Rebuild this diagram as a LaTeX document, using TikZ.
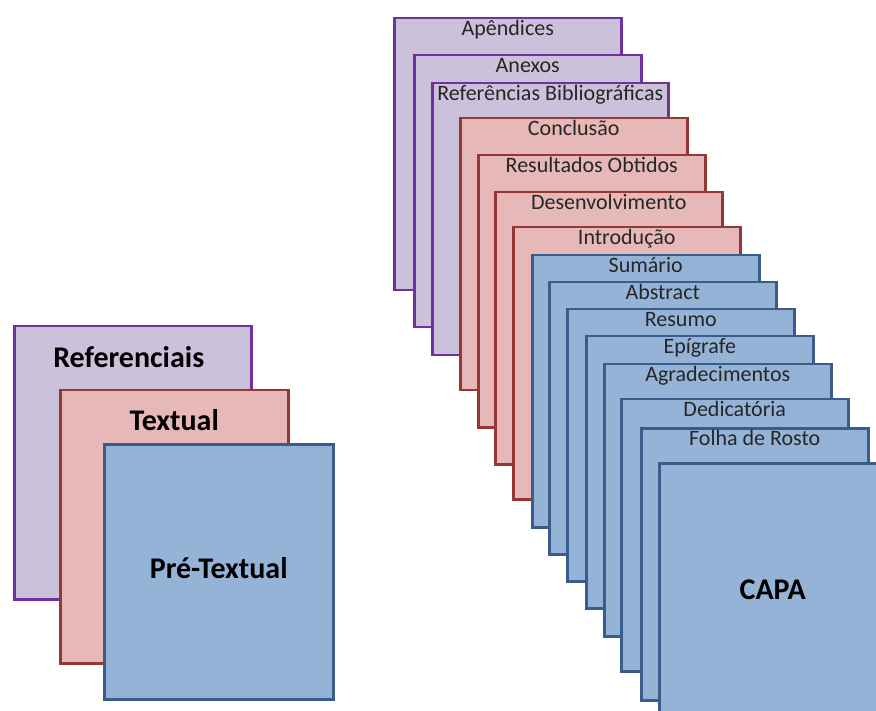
\documentclass[tikz,border=0pt]{standalone}
\usepackage{fontspec}
\setmainfont{Carlito}
\usepackage{tikz}

\definecolor{lilas}{HTML}{CCC1DA}
\definecolor{roxo}{HTML}{7030A0}
\definecolor{rosa}{HTML}{E6B9B8}
\definecolor{vinho}{HTML}{953735}
\definecolor{azul}{HTML}{95B3D7}
\definecolor{marinho}{HTML}{385D8A}

\begin{document}
\begin{tikzpicture}[x=1pt, y=-1pt,
                    card/.style={draw, rectangle, line width=2.5pt, anchor=north west,
                                 minimum width=227pt, minimum height=272pt, inner sep=0},
                    refcard/.style={card, fill=lilas, draw=roxo},
                    txtcard/.style={card, fill=rosa, draw=vinho},
                    precard/.style={card, fill=azul, draw=marinho},
                    cardtitle/.style={anchor=base, inner sep=0, text=black!85,
                                      font=\fontsize{22}{25}\selectfont},
                    grouptitle/.style={anchor=base, inner sep=0,
                                       font=\fontsize{30}{33}\selectfont\bfseries}]
                \clip (0,0) rectangle (876,711);

                % left: the three parts
                \node[refcard, minimum width=237pt, minimum height=273pt] (referenciais) at (13,325) {};
                \node[grouptitle] (treferenciais) at ([xshift=-4pt, yshift=-43pt]referenciais.north) {Referenciais};
                \node[txtcard, minimum width=228pt, minimum height=273pt] (textual) at (59,389) {};
                \node[grouptitle] (ttextual) at ([yshift=-41pt]textual.north) {Textual};
                \node[precard, minimum width=229pt, minimum height=255pt] (pretextual) at (103,443) {};
                \node[grouptitle] (tpretextual) at ([yshift=-135pt]pretextual.north) {Pré-Textual};

                % right: elementos pos-textuais
                \node[refcard] (apendices) at (393,17) {};
                \node[cardtitle] (tapendices) at ([yshift=-18.5pt]apendices.north) {Apêndices};
                \node[refcard] (anexos) at (413,54) {};
                \node[cardtitle] (tanexos) at ([yshift=-18.5pt]anexos.north) {Anexos};
                \node[refcard, minimum width=236pt] (referencias) at (431,82) {};
                \node[cardtitle] (treferencias) at ([yshift=-18.5pt]referencias.north) {Referências Bibliográficas};

                % elementos textuais
                \node[txtcard] (conclusao) at (459,117) {};
                \node[cardtitle] (tconclusao) at ([yshift=-18.5pt]conclusao.north) {Conclusão};
                \node[txtcard] (resultados) at (477,154) {};
                \node[cardtitle] (tresultados) at ([yshift=-18.5pt]resultados.north) {Resultados Obtidos};
                \node[txtcard] (desenvolvimento) at (494,191) {};
                \node[cardtitle] (tdesenvolvimento) at ([yshift=-18.5pt]desenvolvimento.north) {Desenvolvimento};
                \node[txtcard] (introducao) at (512,226) {};
                \node[cardtitle] (tintroducao) at ([yshift=-18.5pt]introducao.north) {Introdução};

                % elementos pre-textuais
                \node[precard] (sumario) at (531,254) {};
                \node[cardtitle] (tsumario) at ([yshift=-18.5pt]sumario.north) {Sumário};
                \node[precard] (abstract) at (548,281) {};
                \node[cardtitle] (tabstract) at ([yshift=-18.5pt]abstract.north) {Abstract};
                \node[precard] (resumo) at (566,308) {};
                \node[cardtitle] (tresumo) at ([yshift=-18.5pt]resumo.north) {Resumo};
                \node[precard] (epigrafe) at (585,335) {};
                \node[cardtitle] (tepigrafe) at ([yshift=-18.5pt]epigrafe.north) {Epígrafe};
                \node[precard] (agradecimentos) at (603,363) {};
                \node[cardtitle] (tagradecimentos) at ([yshift=-18.5pt]agradecimentos.north) {Agradecimentos};
                \node[precard] (dedicatoria) at (620,398) {};
                \node[cardtitle] (tdedicatoria) at ([yshift=-18.5pt]dedicatoria.north) {Dedicatória};
                \node[precard] (folha) at (640,427) {};
                \node[cardtitle] (tfolha) at ([yshift=-18.5pt]folha.north) {Folha de Rosto};
                \node[precard] (capa) at (658,462) {};
                \node[grouptitle] (tcapa) at ([yshift=-137pt]capa.north) {CAPA};
            \end{tikzpicture}
\end{document}
